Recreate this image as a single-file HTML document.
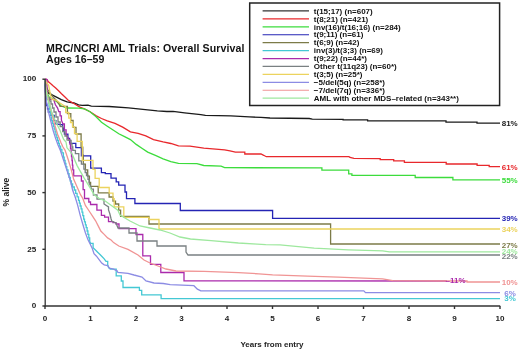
<!DOCTYPE html>
<html><head><meta charset="utf-8"><style>
html,body{margin:0;padding:0;background:#fff;width:520px;height:351px;overflow:hidden;font-family:"Liberation Sans",sans-serif;}
</style></head><body>
<svg width="520" height="351" viewBox="0 0 520 351" style="position:absolute;left:0;top:0;filter:blur(0.3px)">
<polyline points="45.0,79.0 45.5,86.0 46.5,91.0 48.6,93.2 55.5,96.7 61.3,99.6 67.1,101.9 74.0,103.0 78.6,104.8 82.1,105.3 88.0,105.2 91.3,106.1 109.2,106.5 128.5,107.9 147.7,109.8 157.3,110.8 166.9,111.5 173.1,111.4 184.6,112.8 200.8,114.6 205.4,115.3 230.8,115.8 249.3,116.9 260.9,117.4 270.0,118.0 309.2,118.5 312.3,119.1 343.1,119.3 343.1,119.9 367.6,119.9 367.6,120.8 446.0,120.8 446.0,122.1 477.0,122.1 477.0,123.2 500.0,123.2" fill="none" stroke="#1a1a1a" stroke-width="1.3" stroke-linejoin="miter"/>
<polyline points="45.0,79.0 47.0,79.6 48.4,81.8 50.5,83.6 53.0,85.8 55.7,88.0 58.8,91.0 61.5,93.8 64.7,96.8 68.0,100.0 70.8,101.7 75.1,104.2 79.8,107.1 84.4,108.8 90.1,111.7 95.8,115.6 101.5,118.5 107.3,120.8 115.0,123.3 122.7,127.1 130.4,131.9 138.1,133.3 145.8,135.8 153.5,139.6 163.1,141.9 170.8,143.5 178.5,145.8 190.0,146.2 203.8,148.2 224.6,149.9 230.0,150.8 235.4,152.1 244.8,152.1 244.8,154.0 261.0,154.0 263.7,155.3 266.3,156.7 349.0,156.7 350.0,157.5 354.0,158.4 380.2,158.6 380.2,159.7 393.7,159.7 393.7,160.8 404.4,160.8 404.4,162.4 446.2,162.4 446.2,164.0 477.1,164.0 477.1,165.3 489.2,165.3 489.2,166.7 500.0,166.7" fill="none" stroke="#e8282c" stroke-width="1.3" stroke-linejoin="miter"/>
<polyline points="45.0,79.0 45.8,90.0 49.1,97.1 57.7,102.2 61.1,106.0 67.1,108.0 78.6,108.2 84.4,108.8 90.0,111.7 95.8,116.5 101.5,122.3 107.3,126.2 113.1,130.0 118.8,133.8 124.6,136.7 130.4,139.6 136.2,144.4 141.9,148.3 147.7,152.1 155.4,155.4 163.1,158.8 170.8,161.7 178.5,163.3 196.9,163.6 203.8,165.5 221.1,166.2 224.6,167.7 321.9,167.8 321.9,170.2 348.7,170.2 348.7,173.9 351.9,173.9 351.9,175.4 415.2,175.4 415.2,177.5 452.9,177.5 452.9,179.9 500.0,179.9" fill="none" stroke="#3cdc3c" stroke-width="1.3" stroke-linejoin="miter"/>
<polyline points="45.0,79.0 45.6,95.0 46.6,105.5 47.5,105.5 47.5,108.8 48.3,108.8 48.3,112.0 50.8,112.0 50.8,115.4 54.2,115.4 54.2,120.6 55.9,120.6 55.9,124.0 61.0,124.6 62.7,124.6 62.7,128.2 63.6,128.2 63.6,131.2 64.4,131.2 64.4,134.2 67.9,134.2 67.9,138.4 69.6,138.4 69.6,142.7 70.3,143.4 75.8,143.4 75.8,147.7 81.4,147.7 81.4,155.9 90.7,155.9 90.7,168.1 101.4,168.1 101.4,172.7 105.3,172.7 105.3,173.7 111.0,173.7 111.0,178.2 116.2,178.2 116.2,181.9 118.7,181.9 118.7,185.1 125.0,185.1 125.0,192.0 126.5,192.0 126.5,198.6 134.9,198.6 134.9,203.5 180.3,203.5 180.3,210.5 272.6,210.5 272.6,218.3 500.0,218.3" fill="none" stroke="#2424b4" stroke-width="1.3" stroke-linejoin="miter"/>
<polyline points="45.0,79.0 46.0,86.0 48.0,90.0 50.0,93.0 53.0,97.0 56.0,100.0 59.0,104.0 60.0,106.3 67.4,106.3 67.4,113.7 70.8,113.7 70.8,120.5 73.1,120.5 73.1,127.4 76.0,127.4 76.0,134.0 81.1,134.0 81.1,147.1 82.8,147.1 82.8,155.1 83.3,155.1 83.3,164.1 85.4,164.1 85.4,169.8 87.7,169.8 87.7,176.1 89.4,176.1 89.4,182.4 90.6,182.4 90.6,186.4 98.2,186.4 98.2,192.8 109.1,192.8 109.1,197.0 113.0,197.0 113.0,201.2 115.5,201.2 115.5,204.0 118.7,204.0 118.7,210.1 120.6,210.1 120.6,216.3 149.0,216.3 149.0,224.0 330.6,224.0 330.6,244.0 500.0,244.0" fill="none" stroke="#7c7b48" stroke-width="1.3" stroke-linejoin="miter"/>
<polyline points="45.0,79.0 45.5,92.0 47.0,98.0 48.3,100.1 48.7,100.1 48.7,103.1 49.1,103.1 49.1,106.0 49.6,106.0 49.6,109.0 50.0,109.0 50.0,112.0 50.6,112.0 50.6,114.9 51.1,114.9 51.1,117.7 51.7,117.7 51.7,120.6 52.5,120.6 52.5,123.4 53.4,123.4 53.4,126.3 54.2,126.3 54.2,129.1 55.1,129.1 55.1,131.9 55.9,131.9 55.9,134.8 56.8,134.8 56.8,137.6 57.6,137.6 57.6,140.4 58.5,140.4 58.5,143.3 59.3,143.3 59.3,146.1 60.6,146.1 60.6,149.5 61.9,149.5 61.9,152.9 63.4,152.9 63.4,157.1 64.2,157.1 64.2,160.3 65.1,160.3 65.1,163.5 65.9,163.5 65.9,166.7 66.8,166.7 66.8,169.9 68.0,169.9 68.0,173.6 69.1,173.6 69.1,177.3 70.3,177.3 70.3,181.0 71.4,181.0 71.4,184.0 72.6,184.0 72.6,187.0 74.3,187.0 74.3,190.0 75.7,190.0 75.7,193.4 77.1,193.4 77.1,196.9 78.5,196.9 78.5,200.3 79.4,200.3 79.4,203.1 80.2,203.1 80.2,206.0 81.1,206.0 81.1,208.8 82.0,208.8 82.0,212.2 82.8,212.2 82.8,215.7 83.7,215.7 83.7,219.1 84.5,219.1 84.5,221.9 85.4,221.9 85.4,224.8 86.2,224.8 86.2,227.6 87.1,227.6 87.1,231.0 87.9,231.0 87.9,234.4 88.8,234.4 88.8,237.9 89.7,237.9 89.7,241.3 90.6,243.4 93.1,243.4 93.1,247.7 95.7,250.3 97.4,252.0 100.0,254.5 101.7,256.2 104.2,258.8 106.0,261.4 107.7,261.4 107.7,264.8 108.5,267.4 110.2,269.1 116.2,269.1 116.2,275.9 121.3,275.9 121.3,281.0 123.0,281.0 123.0,287.5 139.4,287.5 139.4,290.4 141.7,290.4 141.7,294.9 161.1,294.9 161.1,298.6 500.0,298.6" fill="none" stroke="#44c8d4" stroke-width="1.3" stroke-linejoin="miter"/>
<polyline points="45.0,79.0 47.0,79.5 47.0,99.3 54.1,99.3 54.1,101.0 55.4,104.8 57.5,107.8 58.8,111.7 60.1,111.7 60.1,115.9 61.4,115.9 61.4,120.2 63.0,124.0 64.4,124.0 64.4,129.9 66.1,129.9 66.1,134.2 67.9,137.6 69.4,140.0 70.0,140.0 70.0,144.3 70.5,144.3 70.5,148.5 71.1,148.5 71.1,152.8 71.5,152.8 71.5,156.7 72.0,156.7 72.0,160.5 72.4,160.5 72.4,165.2 72.8,165.2 72.8,169.9 73.7,169.9 73.7,175.9 81.4,175.9 81.4,181.0 83.1,181.0 83.1,189.6 84.5,189.6 84.5,198.5 88.8,198.5 88.8,202.0 90.5,202.0 90.5,204.5 96.9,204.5 96.9,210.1 101.4,210.1 101.4,215.3 104.6,215.3 104.6,217.2 108.5,217.2 108.5,221.7 113.0,221.7 113.0,222.6 116.0,222.6 116.0,224.0 119.0,224.0 119.0,228.6 136.0,228.6 136.0,234.5 142.8,234.5 142.8,255.8 150.5,255.8 150.5,264.3 160.8,264.3 160.8,272.5 184.0,272.5 184.0,280.8 447.0,281.0" fill="none" stroke="#aa2aac" stroke-width="1.3" stroke-linejoin="miter"/>
<polyline points="45.0,79.0 46.0,92.0 48.0,98.0 49.5,98.0 49.5,101.0 51.0,101.0 51.0,104.0 52.5,104.0 52.5,108.0 54.0,108.0 54.0,112.0 56.0,112.0 56.0,117.0 58.0,117.0 58.0,122.0 60.2,122.0 60.2,126.5 62.7,126.5 62.7,131.6 65.0,131.6 65.0,136.0 67.0,136.0 67.0,140.0 70.3,140.5 71.1,140.5 71.1,143.8 72.0,143.8 72.0,147.0 72.8,147.0 72.8,150.3 75.4,150.3 75.4,153.7 78.8,153.7 78.8,160.8 81.4,160.8 81.4,164.2 83.9,164.2 83.9,169.1 85.2,169.1 85.2,172.5 86.5,172.5 86.5,175.5 88.0,175.5 88.0,179.3 89.1,179.3 89.1,183.0 90.6,186.2 91.6,189.2 93.4,189.2 93.4,195.0 97.0,195.0 97.0,199.2 104.0,199.2 104.0,204.0 108.5,206.9 108.5,210.0 109.7,213.3 111.0,218.5 111.7,221.0 116.0,223.0 118.0,228.0 129.0,228.0 129.0,233.0 137.0,233.0 137.0,241.0 157.0,241.0 157.0,246.0 186.0,246.0 186.0,252.0 188.0,255.0 500.0,255.0" fill="none" stroke="#7a8082" stroke-width="1.3" stroke-linejoin="miter"/>
<polyline points="45.0,79.0 46.0,82.0 48.6,85.0 49.7,90.5 50.5,95.7 52.0,99.4 56.0,100.0 60.0,103.0 65.7,106.8 65.7,112.5 68.8,112.5 68.8,118.2 70.5,118.2 70.5,122.5 72.5,122.5 72.5,126.8 74.5,126.8 74.5,133.6 77.1,133.6 77.1,141.4 82.3,141.4 82.3,160.3 93.0,160.3 93.0,169.3 95.1,169.3 95.1,178.4 99.2,178.4 99.2,187.5 109.2,187.5 109.2,193.2 113.0,193.2 113.0,198.6 114.2,198.6 114.2,206.9 123.8,206.9 123.8,217.4 149.0,217.4 149.0,219.5 159.0,219.5 159.0,229.0 500.0,229.0" fill="none" stroke="#ecd35e" stroke-width="1.3" stroke-linejoin="miter"/>
<polyline points="45.0,79.0 45.4,92.0 46.2,100.0 47.5,106.0 49.0,114.0 51.0,122.0 53.0,130.0 55.5,138.0 58.0,145.0 60.3,150.3 63.7,160.5 67.1,170.8 70.5,181.0 72.6,190.0 75.1,196.8 77.7,205.4 80.3,215.6 82.8,224.2 85.4,232.7 87.9,239.6 90.5,244.7 92.3,248.5 94.0,253.7 96.5,256.2 99.1,259.7 101.7,263.1 104.2,264.8 107.7,265.6 109.4,268.2 113.6,269.1 117.1,270.8 117.9,272.5 128.0,273.3 134.0,275.0 142.0,277.0 146.0,281.0 154.0,283.0 163.3,283.5 170.2,284.7 193.9,285.7 197.4,289.1 200.8,290.9 363.8,290.9 365.5,292.6 500.0,292.6" fill="none" stroke="#8c8ce4" stroke-width="1.3" stroke-linejoin="miter"/>
<polyline points="45.0,79.0 46.0,88.0 48.0,98.0 50.0,106.0 52.5,116.0 55.0,125.7 57.6,134.2 61.0,142.7 63.0,147.0 65.1,150.3 68.5,160.5 71.1,169.1 73.7,179.3 77.1,187.0 80.5,194.7 82.8,198.5 85.4,205.4 88.8,210.5 92.2,215.6 95.6,220.8 98.2,225.9 100.8,231.0 104.2,234.4 107.6,237.9 111.1,240.0 113.6,242.6 118.8,246.0 128.0,249.4 138.0,255.0 144.0,260.0 150.0,263.0 158.0,266.0 166.0,269.0 176.0,271.0 204.2,271.4 238.4,272.7 258.9,273.8 272.6,274.8 307.4,276.2 338.1,277.2 382.6,278.9 392.8,280.6 467.0,281.0 467.0,282.0 500.0,282.0" fill="none" stroke="#f09494" stroke-width="1.3" stroke-linejoin="miter"/>
<polyline points="45.0,79.0 46.0,90.0 48.0,100.0 50.0,106.0 51.7,112.0 55.9,122.3 60.2,130.8 63.6,139.3 66.0,142.0 67.0,147.8 72.0,153.7 77.1,165.6 83.9,177.6 89.1,186.2 94.2,194.7 100.0,199.0 104.2,200.3 110.0,204.5 117.8,210.1 120.0,215.0 130.0,221.0 140.0,226.0 150.0,228.0 160.0,230.0 170.0,233.0 180.0,237.0 190.5,239.0 211.0,240.6 238.4,243.0 265.7,244.7 280.0,244.9 314.2,248.1 348.4,249.8 382.6,250.9 389.4,251.8 500.0,251.8" fill="none" stroke="#9ee89e" stroke-width="1.3" stroke-linejoin="miter"/>
<line x1="45.2" y1="79" x2="45.2" y2="306.6" stroke="#333" stroke-width="1.3"/>
<line x1="44.6" y1="306" x2="500.2" y2="306" stroke="#333" stroke-width="1.4"/>
<line x1="42.4" y1="79.2" x2="45.2" y2="79.2" stroke="#333" stroke-width="1.4"/>
<text x="36.2" y="81.4" text-anchor="end" font-family="Liberation Sans" font-weight="bold" font-size="8.1" fill="#222">100</text>
<line x1="42.4" y1="135.9" x2="45.2" y2="135.9" stroke="#333" stroke-width="1.4"/>
<text x="36.2" y="138.1" text-anchor="end" font-family="Liberation Sans" font-weight="bold" font-size="8.1" fill="#222">75</text>
<line x1="42.4" y1="192.6" x2="45.2" y2="192.6" stroke="#333" stroke-width="1.4"/>
<text x="36.2" y="194.8" text-anchor="end" font-family="Liberation Sans" font-weight="bold" font-size="8.1" fill="#222">50</text>
<line x1="42.4" y1="249.3" x2="45.2" y2="249.3" stroke="#333" stroke-width="1.4"/>
<text x="36.2" y="251.5" text-anchor="end" font-family="Liberation Sans" font-weight="bold" font-size="8.1" fill="#222">25</text>
<line x1="42.4" y1="306.0" x2="45.2" y2="306.0" stroke="#333" stroke-width="1.4"/>
<text x="36.2" y="308.2" text-anchor="end" font-family="Liberation Sans" font-weight="bold" font-size="8.1" fill="#222">0</text>
<line x1="45.0" y1="306" x2="45.0" y2="309" stroke="#333" stroke-width="1.4"/>
<text x="45.0" y="321.4" text-anchor="middle" font-family="Liberation Sans" font-weight="bold" font-size="8.1" fill="#222">0</text>
<line x1="90.5" y1="306" x2="90.5" y2="309" stroke="#333" stroke-width="1.4"/>
<text x="90.5" y="321.4" text-anchor="middle" font-family="Liberation Sans" font-weight="bold" font-size="8.1" fill="#222">1</text>
<line x1="136.0" y1="306" x2="136.0" y2="309" stroke="#333" stroke-width="1.4"/>
<text x="136.0" y="321.4" text-anchor="middle" font-family="Liberation Sans" font-weight="bold" font-size="8.1" fill="#222">2</text>
<line x1="181.5" y1="306" x2="181.5" y2="309" stroke="#333" stroke-width="1.4"/>
<text x="181.5" y="321.4" text-anchor="middle" font-family="Liberation Sans" font-weight="bold" font-size="8.1" fill="#222">3</text>
<line x1="227.0" y1="306" x2="227.0" y2="309" stroke="#333" stroke-width="1.4"/>
<text x="227.0" y="321.4" text-anchor="middle" font-family="Liberation Sans" font-weight="bold" font-size="8.1" fill="#222">4</text>
<line x1="272.5" y1="306" x2="272.5" y2="309" stroke="#333" stroke-width="1.4"/>
<text x="272.5" y="321.4" text-anchor="middle" font-family="Liberation Sans" font-weight="bold" font-size="8.1" fill="#222">5</text>
<line x1="318.0" y1="306" x2="318.0" y2="309" stroke="#333" stroke-width="1.4"/>
<text x="318.0" y="321.4" text-anchor="middle" font-family="Liberation Sans" font-weight="bold" font-size="8.1" fill="#222">6</text>
<line x1="363.5" y1="306" x2="363.5" y2="309" stroke="#333" stroke-width="1.4"/>
<text x="363.5" y="321.4" text-anchor="middle" font-family="Liberation Sans" font-weight="bold" font-size="8.1" fill="#222">7</text>
<line x1="409.0" y1="306" x2="409.0" y2="309" stroke="#333" stroke-width="1.4"/>
<text x="409.0" y="321.4" text-anchor="middle" font-family="Liberation Sans" font-weight="bold" font-size="8.1" fill="#222">8</text>
<line x1="454.5" y1="306" x2="454.5" y2="309" stroke="#333" stroke-width="1.4"/>
<text x="454.5" y="321.4" text-anchor="middle" font-family="Liberation Sans" font-weight="bold" font-size="8.1" fill="#222">9</text>
<line x1="500.0" y1="306" x2="500.0" y2="309" stroke="#333" stroke-width="1.4"/>
<text x="500.0" y="321.4" text-anchor="middle" font-family="Liberation Sans" font-weight="bold" font-size="8.1" fill="#222">10</text>
<text x="272" y="347.4" text-anchor="middle" font-family="Liberation Sans" font-weight="bold" font-size="8" fill="#222">Years from entry</text>
<text transform="translate(9.1,192.1) rotate(-90)" x="0" y="0" text-anchor="middle" font-family="Liberation Sans" font-weight="bold" font-size="8.5" fill="#222">% alive</text>
<text x="501.7" y="125.9" font-family="Liberation Sans" font-weight="bold" font-size="8" fill="#222222">81%</text>
<text x="501.7" y="169.7" font-family="Liberation Sans" font-weight="bold" font-size="8" fill="#e8282c">61%</text>
<text x="501.7" y="183.1" font-family="Liberation Sans" font-weight="bold" font-size="8" fill="#3cdc3c">55%</text>
<text x="501.7" y="220.9" font-family="Liberation Sans" font-weight="bold" font-size="8" fill="#2424b4">39%</text>
<text x="501.7" y="231.9" font-family="Liberation Sans" font-weight="bold" font-size="8" fill="#ecd35e">34%</text>
<text x="501.7" y="247.9" font-family="Liberation Sans" font-weight="bold" font-size="8" fill="#7c7b48">27%</text>
<text x="501.7" y="254.4" font-family="Liberation Sans" font-weight="bold" font-size="8" fill="#9ee89e">24%</text>
<text x="501.7" y="258.9" font-family="Liberation Sans" font-weight="bold" font-size="8" fill="#7a8082">22%</text>
<text x="501.7" y="284.5" font-family="Liberation Sans" font-weight="bold" font-size="8" fill="#f09494">10%</text>
<text x="504.3" y="295.5" font-family="Liberation Sans" font-weight="bold" font-size="8" fill="#8c8ce4">6%</text>
<text x="504.3" y="301.3" font-family="Liberation Sans" font-weight="bold" font-size="8" fill="#44c8d4">3%</text>
<text x="445.5" y="282.8" font-family="Liberation Sans" font-weight="bold" font-size="8" fill="#aa2aac">–11%</text>
<text x="46" y="51.8" font-family="Liberation Sans" font-weight="bold" font-size="10.6" fill="#111" textLength="198.4" lengthAdjust="spacing">MRC/NCRI AML Trials: Overall Survival</text>
<text x="46" y="62.9" font-family="Liberation Sans" font-weight="bold" font-size="10.6" fill="#111">Ages 16–59</text>
<rect x="249.7" y="3.0" width="249.9" height="102.5" fill="#fff" stroke="#222" stroke-width="1.5"/>
<line x1="262.6" y1="10.95" x2="309" y2="10.95" stroke="#333333" stroke-width="1.2"/>
<text x="313.8" y="13.65" font-family="Liberation Sans" font-weight="bold" font-size="8" fill="#111">t(15;17) (n=607)</text>
<line x1="262.6" y1="18.88" x2="309" y2="18.88" stroke="#e8282c" stroke-width="1.2"/>
<text x="313.8" y="21.58" font-family="Liberation Sans" font-weight="bold" font-size="8" fill="#111">t(8;21) (n=421)</text>
<line x1="262.6" y1="26.81" x2="309" y2="26.81" stroke="#3cdc3c" stroke-width="1.2"/>
<text x="313.8" y="29.51" font-family="Liberation Sans" font-weight="bold" font-size="8" fill="#111">inv(16)/t(16;16) (n=284)</text>
<line x1="262.6" y1="34.74" x2="309" y2="34.74" stroke="#2424b4" stroke-width="1.2"/>
<text x="313.8" y="37.44" font-family="Liberation Sans" font-weight="bold" font-size="8" fill="#111">t(9;11) (n=61)</text>
<line x1="262.6" y1="42.67" x2="309" y2="42.67" stroke="#7c7b48" stroke-width="1.2"/>
<text x="313.8" y="45.37" font-family="Liberation Sans" font-weight="bold" font-size="8" fill="#111">t(6;9) (n=42)</text>
<line x1="262.6" y1="50.60" x2="309" y2="50.60" stroke="#44c8d4" stroke-width="1.2"/>
<text x="313.8" y="53.30" font-family="Liberation Sans" font-weight="bold" font-size="8" fill="#111">inv(3)/t(3;3) (n=69)</text>
<line x1="262.6" y1="58.53" x2="309" y2="58.53" stroke="#aa2aac" stroke-width="1.2"/>
<text x="313.8" y="61.23" font-family="Liberation Sans" font-weight="bold" font-size="8" fill="#111">t(9;22) (n=44*)</text>
<line x1="262.6" y1="66.46" x2="309" y2="66.46" stroke="#7a8082" stroke-width="1.2"/>
<text x="313.8" y="69.16" font-family="Liberation Sans" font-weight="bold" font-size="8" fill="#111">Other t(11q23) (n=60*)</text>
<line x1="262.6" y1="74.39" x2="309" y2="74.39" stroke="#ecd35e" stroke-width="1.2"/>
<text x="313.8" y="77.09" font-family="Liberation Sans" font-weight="bold" font-size="8" fill="#111">t(3;5) (n=25*)</text>
<line x1="262.6" y1="82.32" x2="309" y2="82.32" stroke="#8c8ce4" stroke-width="1.2"/>
<text x="313.8" y="85.02" font-family="Liberation Sans" font-weight="bold" font-size="8" fill="#111">−5/del(5q) (n=258*)</text>
<line x1="262.6" y1="90.25" x2="309" y2="90.25" stroke="#f09494" stroke-width="1.2"/>
<text x="313.8" y="92.95" font-family="Liberation Sans" font-weight="bold" font-size="8" fill="#111">−7/del(7q) (n=336*)</text>
<line x1="262.6" y1="98.18" x2="309" y2="98.18" stroke="#9ee89e" stroke-width="1.2"/>
<text x="313.8" y="100.88" font-family="Liberation Sans" font-weight="bold" font-size="8" fill="#111">AML with other MDS–related (n=343**)</text>
</svg>
</body></html>
